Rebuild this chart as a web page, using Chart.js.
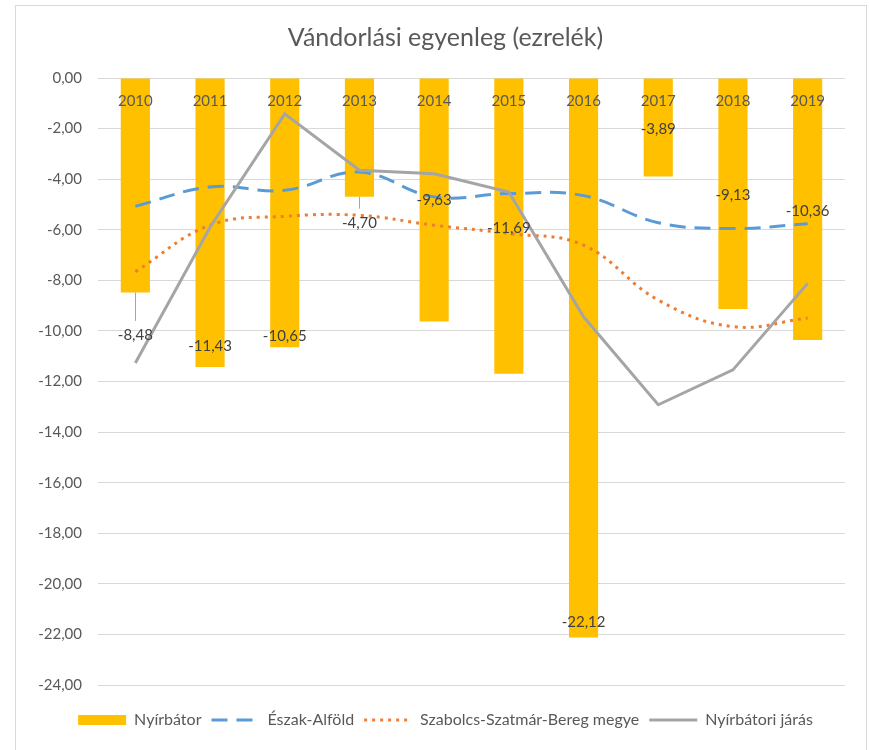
<!DOCTYPE html>
<html>
<head>
<meta charset="utf-8">
<script src="https://cdn.jsdelivr.net/npm/chart.js@4.4.1/dist/chart.umd.min.js"></script>
<style>
    html, body { margin: 0; padding: 0; background: #fff; }
    #frame { position: absolute; left: 15px; top: 5px; width: 850px; height: 760px; border: 1px solid #d9d9d9; }
    #wrap { position: absolute; left: 0; top: 0; width: 869px; height: 750px; }
</style>
</head>
<body>
<div id="frame"></div>
<div id="wrap"><canvas id="chart" width="869" height="750"></canvas></div>
<script>
// data
const years = ['2010', '2011', '2012', '2013', '2014', '2015', '2016', '2017', '2018', '2019'];
const nyirbator = [-8.48, -11.43, -10.65, -4.70, -9.63, -11.69, -22.12, -3.89, -9.13, -10.36];
const eszakAlfold = [-5.07, -4.31, -4.44, -3.72, -4.70, -4.57, -4.65, -5.72, -5.95, -5.76];
const szabolcs = [-7.66, -5.82, -5.47, -5.43, -5.82, -6.15, -6.61, -8.78, -9.83, -9.49];
const nyirbatoriJaras = [-11.27, -5.90, -1.42, -3.65, -3.79, -4.51, -9.44, -12.92, -11.54, -8.12];
const yMin = -24, yMax = 0, yStep = 2;

// where Excel left the bar labels (in axis units)
const labelPos = [-10.16, -10.62, -10.22, -5.72, -4.84, -5.93, -21.5, -2.01, -4.64, -5.26];

const FONT = 'Lato, "Liberation Sans", sans-serif';
const fmt = v => v.toFixed(2).replace('.', ',');

const barLabels = {
    id: 'barLabels',
    afterDatasetsDraw(chart) {
        const ctx = chart.ctx;
        const meta = chart.getDatasetMeta(0);
        const y = chart.scales.y;
        ctx.save();
        ctx.font = '15px ' + FONT;
        ctx.textAlign = 'center';
        ctx.textBaseline = 'middle';
        meta.data.forEach((bar, i) => {
            const ly = y.getPixelForValue(labelPos[i]);
            if (labelPos[i] < nyirbator[i]) {
                // leader line
                ctx.strokeStyle = '#a6a6a6';
                ctx.lineWidth = 1;
                ctx.beginPath();
                ctx.moveTo(Math.round(bar.x) + 0.5, bar.y);
                ctx.lineTo(Math.round(bar.x) + 0.5, ly - 14);
                ctx.stroke();
            }
            ctx.fillStyle = '#404040';
            ctx.fillText(fmt(nyirbator[i]), bar.x, ly);
        });
        ctx.restore();
    }
};

new Chart(document.getElementById('chart'), {
    type: 'bar',
    data: {
        labels: years,
        datasets: [{
            label: 'Nyírbátor',
            data: nyirbator,
            backgroundColor: '#ffc000',
            borderColor: '#ffc000',
            borderWidth: 0,
            categoryPercentage: 1,
            barPercentage: 0.39,
            order: 4
        }, {
            type: 'line',
            label: 'Észak-Alföld',
            data: eszakAlfold,
            borderColor: '#5b9bd5',
            backgroundColor: '#5b9bd5',
            borderWidth: 3,
            borderDash: [16, 9],
            tension: 0.4,
            pointRadius: 0,
            order: 3
        }, {
            type: 'line',
            label: 'Szabolcs-Szatmár-Bereg megye',
            data: szabolcs,
            borderColor: '#ed7d31',
            backgroundColor: '#ed7d31',
            borderWidth: 3,
            borderDash: [3, 5],
            tension: 0.4,
            pointRadius: 0,
            order: 2
        }, {
            type: 'line',
            label: 'Nyírbátori járás',
            data: nyirbatoriJaras,
            borderColor: '#a5a5a5',
            backgroundColor: '#a5a5a5',
            borderWidth: 3,
            tension: 0,
            pointRadius: 0,
            order: 1
        }]
    },
    options: {
        responsive: false,
        animation: false,
        layout: { padding: { top: 5, left: 22, right: 0, bottom: 12 } },
        scales: {
            x: {
                position: { y: 0 },
                grid: { display: false, drawTicks: false },
                border: { display: false },
                ticks: { z: 1, padding: 14, color: '#595959', font: { family: FONT, size: 15 } }
            },
            x2: {
                type: 'category',
                labels: years,
                position: 'bottom',
                grid: { display: false, drawTicks: false },
                border: { display: false },
                ticks: { display: false },
                afterFit(s) { s.height = 17; }
            },
            y: {
                min: yMin,
                max: yMax,
                grid: { color: '#d9d9d9', lineWidth: 1, drawTicks: false },
                border: { display: false },
                ticks: {
                    stepSize: yStep,
                    padding: 16,
                    color: '#595959',
                    font: { family: FONT, size: 15 },
                    callback: v => fmt(v)
                },
                afterFit(s) { s.width = 76; }
            },
            y2: {
                position: 'right',
                min: yMin,
                max: yMax,
                grid: { display: false, drawTicks: false },
                border: { display: false },
                ticks: { display: false },
                afterFit(s) { s.width = 24; }
            }
        },
        plugins: {
            title: {
                display: true,
                text: 'Vándorlási egyenleg (ezrelék)',
                color: '#595959',
                font: { family: FONT, size: 25, weight: 'normal' },
                padding: { top: 18, bottom: 25 }
            },
            legend: {
                position: 'bottom',
                labels: {
                    usePointStyle: true,
                    pointStyleWidth: 48,
                    boxHeight: 10,
                    padding: 10,
                    color: '#595959',
                    font: { family: FONT, size: 16 },
                    sort: (a, b) => a.datasetIndex - b.datasetIndex,
                    generateLabels(chart) {
                        const items = Chart.defaults.plugins.legend.labels.generateLabels(chart);
                        items.forEach(it => {
                            const ds = chart.data.datasets[it.datasetIndex];
                            it.pointStyle = it.datasetIndex === 0 ? 'rect' : 'line';
                            it.lineDash = ds.borderDash || [];
                            it.lineWidth = it.datasetIndex === 0 ? 0 : ds.borderWidth;
                        });
                        return items;
                    }
                }
            },
            tooltip: { enabled: false }
        }
    },
    plugins: [barLabels]
});
</script>
</body>
</html>
